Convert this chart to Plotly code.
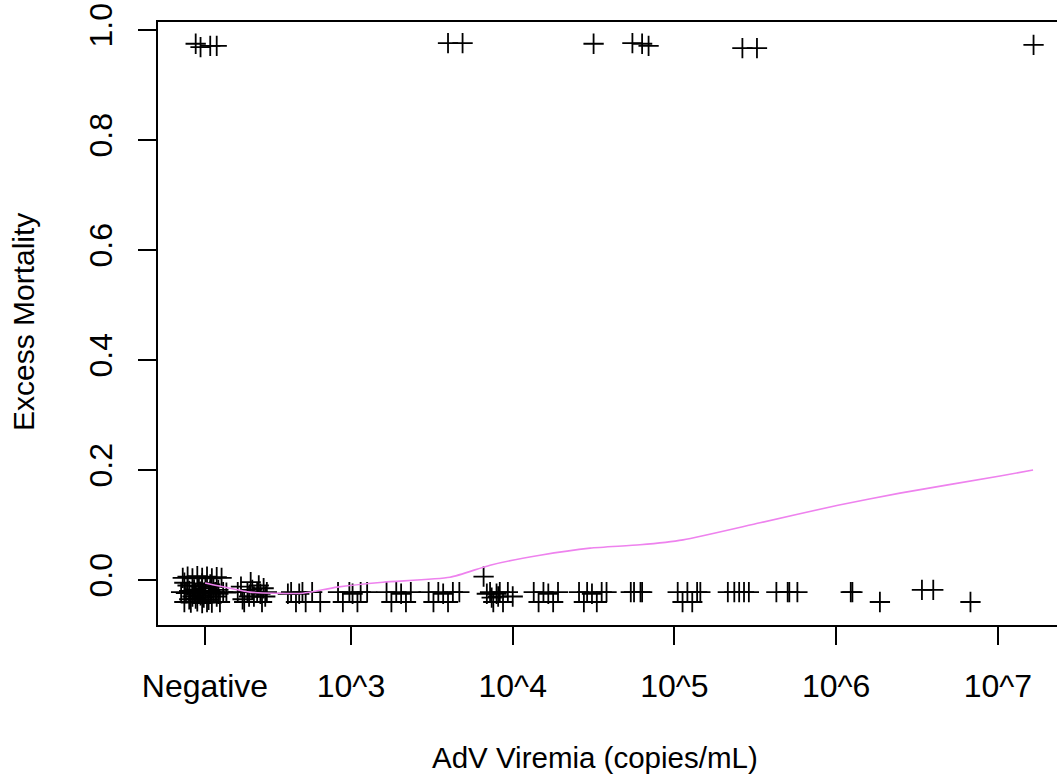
import plotly.graph_objects as go

# x values: log10(AdV copies/mL); "Negative" coded near log10(125) with jitter
died_x = [2.04, 2.07, 2.13, 2.17, 3.60, 3.69, 4.50, 4.74, 4.80, 4.84, 5.42, 5.51, 7.22]
died_y = [0.975, 0.969, 0.971, 0.971, 0.976, 0.976, 0.975, 0.976, 0.975, 0.971, 0.967, 0.967, 0.973]

surv_x = [
    # Negative cluster
    1.96, 1.99, 2.02, 2.05, 2.08, 2.11, 2.14, 2.17, 2.20,
    1.95, 1.98, 2.00, 2.03, 2.04, 2.06, 2.07, 2.09, 2.10, 2.12, 2.13, 2.15, 2.16, 2.18, 2.21, 2.23,
    1.97, 2.01, 2.05, 2.08, 2.11, 2.14, 2.19,
    1.99, 2.02, 2.06, 2.09, 2.13, 2.17, 2.10, 2.04,
    1.97, 2.00, 2.03, 2.07, 2.12, 2.15, 2.18, 2.08,
    # low positives
    2.30, 2.32, 2.34, 2.36, 2.37, 2.38, 2.40, 2.42, 2.43, 2.44, 2.45, 2.47, 2.48,
    2.33, 2.39, 2.46,
    2.61, 2.63, 2.66, 2.68, 2.70, 2.72, 2.76, 2.81,
    2.92, 2.95, 2.99, 3.01, 3.04, 3.06, 3.10,
    3.22, 3.25, 3.28, 3.31, 3.34, 3.37,
    3.48, 3.51, 3.54, 3.57, 3.60, 3.63, 3.67,
    3.82, 3.84, 3.86, 3.87, 3.88, 3.90, 3.91, 3.92, 3.94, 3.97, 4.00,
    4.13, 4.16, 4.19, 4.22, 4.25, 4.28,
    4.41, 4.44, 4.46, 4.49, 4.52, 4.55, 4.58,
    4.73, 4.75, 4.79, 4.80,
    5.02, 5.05, 5.08, 5.11, 5.14, 5.16,
    5.33, 5.37, 5.40, 5.43, 5.46,
    5.63, 5.70, 5.71, 5.76,
    6.09, 6.10,
    6.27,
    6.53, 6.60,
    6.83,
]
surv_y = [
    0.004, 0.006, 0.003, 0.007, 0.004, 0.006, 0.003, 0.005, 0.004,
    -0.022, -0.024, -0.020, -0.023, -0.025, -0.022, -0.021, -0.024, -0.022, -0.023, -0.020, -0.024, -0.022, -0.025, -0.022, -0.023,
    -0.040, -0.041, -0.039, -0.042, -0.040, -0.041, -0.040,
    -0.010, -0.030, -0.012, -0.032, -0.008, -0.030, -0.015, -0.034,
    -0.005, -0.035, -0.017, -0.028, -0.036, -0.012, -0.018, -0.006,
    -0.022, -0.012, -0.040, -0.022, -0.030, -0.004, -0.030, -0.022, -0.010, -0.025, -0.040, -0.030, -0.022,
    -0.035, -0.018, -0.015,
    -0.025, -0.022, -0.040, -0.025, -0.022, -0.040, -0.022, -0.040,
    -0.022, -0.040, -0.022, -0.025, -0.040, -0.022, -0.022,
    -0.022, -0.040, -0.022, -0.025, -0.040, -0.022,
    -0.022, -0.040, -0.022, -0.025, -0.040, -0.022, -0.022,
    0.006, -0.025, -0.022, -0.032, -0.040, -0.025, -0.030, -0.022, -0.040, -0.022, -0.030,
    -0.022, -0.040, -0.022, -0.025, -0.040, -0.022,
    -0.022, -0.040, -0.022, -0.025, -0.040, -0.022, -0.022,
    -0.022, -0.022, -0.022, -0.022,
    -0.022, -0.040, -0.022, -0.040, -0.022, -0.022,
    -0.022, -0.022, -0.022, -0.022, -0.022,
    -0.022, -0.022, -0.022, -0.022,
    -0.022, -0.022,
    -0.040,
    -0.018, -0.018,
    -0.040,
]

trend_x = [2.098, 2.376, 2.543, 2.703, 2.914, 3.198, 3.612, 3.860, 4.169, 4.478, 4.787,
           5.053, 5.529, 6.011, 6.394, 7.013, 7.217]
trend_y = [-0.0055, -0.022, -0.024, -0.024, -0.013, -0.004, 0.005, 0.027, 0.045, 0.058, 0.064,
           0.073, 0.104, 0.136, 0.158, 0.189, 0.200]

x_tick_vals = [2.097, 3, 4, 5, 6, 7]
x_tick_text = ["Negative", "10^3", "10^4", "10^5", "10^6", "10^7"]
y_tick_vals = [0.0, 0.2, 0.4, 0.6, 0.8, 1.0]
y_tick_text = ["0.0", "0.2", "0.4", "0.6", "0.8", "1.0"]

FONT = "Liberation Sans, Arial, sans-serif"
TICK_SIZE = 32
marker = dict(symbol="cross-thin", size=14.5, color="black",
              line=dict(color="black", width=1.8))

fig = go.Figure()
fig.add_trace(go.Scatter(x=surv_x, y=surv_y, mode="markers", marker=marker,
                         showlegend=False, hoverinfo="skip"))
fig.add_trace(go.Scatter(x=died_x, y=died_y, mode="markers", marker=marker,
                         showlegend=False, hoverinfo="skip"))
fig.add_trace(go.Scatter(x=trend_x, y=trend_y, mode="lines",
                         line=dict(color="#EE82EE", width=1.6, shape="spline", smoothing=0.6),
                         showlegend=False, hoverinfo="skip"))

fig.update_layout(
    width=1057, height=779,
    margin=dict(l=158, r=0, t=22, b=154),
    paper_bgcolor="white", plot_bgcolor="white",
    font=dict(family=FONT, size=29, color="black"),
    xaxis=dict(range=[1.807, 7.365], showgrid=False, zeroline=False,
               showline=True, mirror=True, linecolor="black", linewidth=1.5,
               ticks="outside", ticklen=18, tickwidth=1.5, tickcolor="black",
               tickvals=x_tick_vals, ticktext=x_tick_text,
               ticklabelstandoff=14, tickfont=dict(family=FONT, size=TICK_SIZE)),
    yaxis=dict(range=[-0.0818, 1.0145], showgrid=False, zeroline=False,
               showline=True, mirror=False, linecolor="black", linewidth=1.5,
               ticks="outside", ticklen=18, tickwidth=1.5, tickcolor="black",
               tickvals=y_tick_vals, ticktext=y_tick_text, tickangle=-90,
               ticklabelstandoff=13, tickfont=dict(family=FONT, size=TICK_SIZE)),
    annotations=[
        dict(text="AdV Viremia (copies/mL)", xref="paper", yref="paper",
             x=0.486, y=-0.219, xanchor="center", yanchor="middle",
             showarrow=False, font=dict(family=FONT, size=29.5)),
        dict(text="Excess Mortality", xref="paper", yref="paper",
             x=-0.149, y=0.5025, xanchor="center", yanchor="middle", textangle=-90,
             showarrow=False, font=dict(family=FONT, size=30)),
    ],
)

fig.write_html("out.html")
